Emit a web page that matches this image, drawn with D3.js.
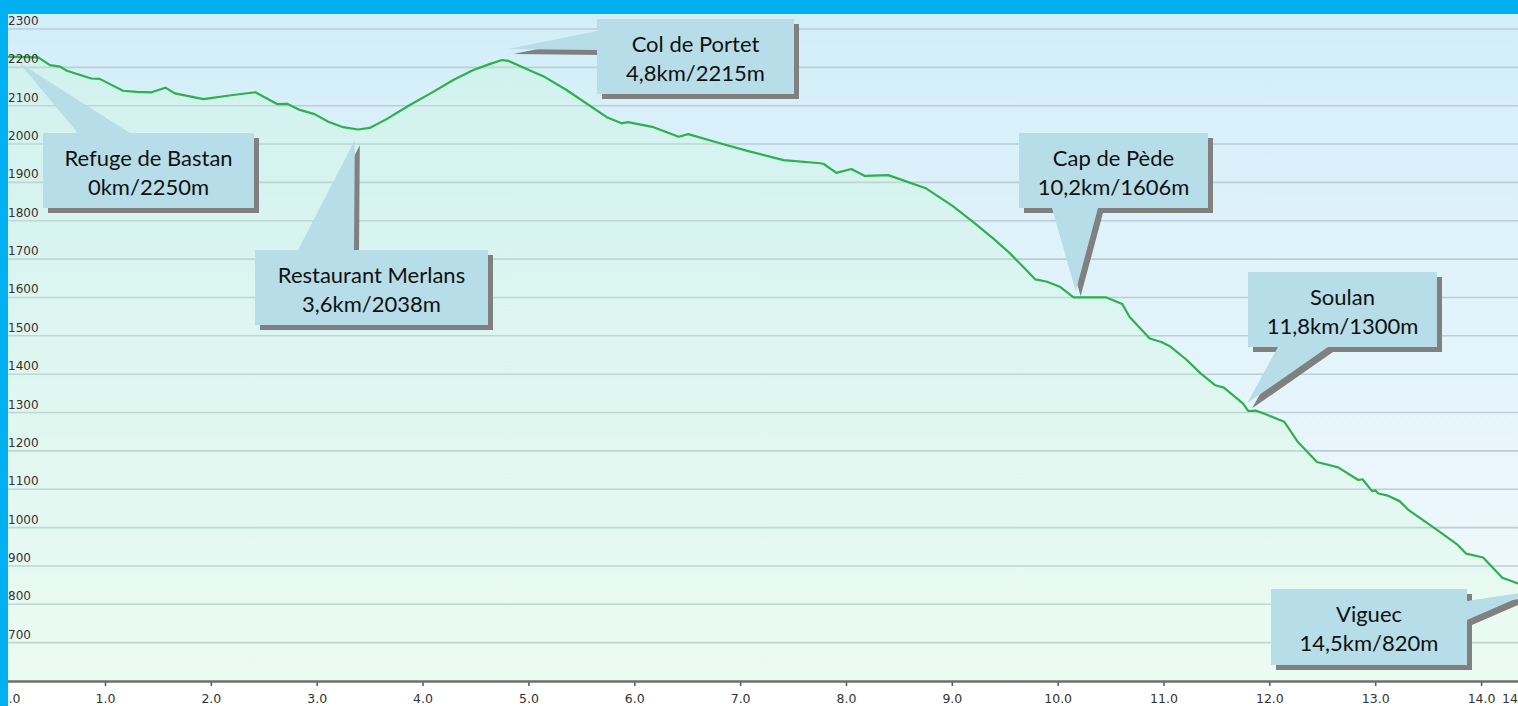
<!DOCTYPE html>
<html>
<head>
<meta charset="utf-8">
<script src="https://cdn.jsdelivr.net/npm/d3@7"></script>
<style>
  body { margin: 0; background: #fff; overflow: hidden; }
  svg { display: block; }
</style>
</head>
<body>
<div id="profil"></div>
<script>
// profile data: distance (km) / elevation (m)
var distKm = [0, 0.37, 0.48, 0.575, 0.64, 0.87, 0.95, 1.17, 1.30, 1.44, 1.57, 1.66, 1.93, 2.21, 2.42, 2.63, 2.72, 2.84, 2.98, 3.11,
  3.25, 3.39, 3.50, 3.66, 3.88, 4.10, 4.29, 4.48, 4.64, 4.75, 4.81, 5.02, 5.14, 5.36, 5.74, 5.88, 5.94, 6.17, 6.42, 6.51,
  6.81, 7.06, 7.41, 7.76, 7.79, 7.91, 8.05, 8.18, 8.40, 8.76, 9.01, 9.20, 9.39, 9.55, 9.68, 9.79, 9.90, 10.02, 10.15, 10.46,
  10.61, 10.68, 10.87, 10.98, 11.06, 11.22, 11.35, 11.49, 11.57, 11.75, 11.80, 11.87, 11.96, 12.14, 12.27, 12.45, 12.65, 12.84, 12.88, 12.97,
  13.00, 13.03, 13.11, 13.23, 13.31, 13.61, 13.77, 13.86, 14.02, 14.20, 14.35, 14.50];
var elevM = [2228, 2226, 2206, 2202, 2191, 2171, 2170, 2139, 2136, 2135, 2147, 2132, 2117, 2128, 2135, 2104, 2105, 2089, 2078, 2058,
  2044, 2038, 2042, 2065, 2102, 2136, 2167, 2193, 2209, 2219, 2217, 2191, 2177, 2141, 2070, 2054, 2057, 2045, 2019, 2026,
  2002, 1983, 1958, 1950, 1948, 1925, 1935, 1917, 1919, 1884, 1838, 1797, 1754, 1715, 1678, 1647, 1641, 1628, 1600, 1600,
  1583, 1549, 1493, 1484, 1473, 1437, 1402, 1371, 1365, 1324, 1304, 1305, 1296, 1276, 1223, 1171, 1157, 1124, 1126, 1095,
  1097, 1089, 1084, 1069, 1047, 989, 957, 932, 922, 869, 854, 828];

// axis ticks
var xTicks = [0, 1, 2, 3, 4, 5, 6, 7, 8, 9, 10, 11, 12, 13, 14];
var xEndTick = 14.5;
var yTicks = [700, 800, 900, 1000, 1100, 1200, 1300, 1400, 1500, 1600, 1700, 1800, 1900, 2000, 2100, 2200, 2300];

// waypoints (callouts)
var stopNames = ["Refuge de Bastan", "Restaurant Merlans", "Col de Portet", "Cap de Pède", "Soulan", "Viguec"];
var stopInfo = ["0km/2250m", "3,6km/2038m", "4,8km/2215m", "10,2km/1606m", "11,8km/1300m", "14,5km/820m"];
var stopKm = [0.19, 3.36, 4.81, 10.17, 11.79, 14.5];
var stopElev = [2212, 2010, 2248, 1616, 1324, 835];

/*================ layout ================*/
var width = 1518,
height = 706;
var plotTop = 14, plotBottom = 681, plotLeft = 8;

// box position of each callout + where the pointer leaves the box (pixels)
var boxLayout = [
  {x: 43,   y: 133, w: 211, h: 75, side: "top",    a: 78,  b: 130},
  {x: 255,  y: 250, w: 233, h: 75, side: "top",    a: 298, b: 354},
  {x: 597,  y: 19,  w: 197, h: 75, side: "left",   a: 31,  b: 50},
  {x: 1019, y: 133, w: 189, h: 75, side: "bottom", a: 1052, b: 1098},
  {x: 1248, y: 272, w: 189, h: 75, side: "bottom", a: 1278, b: 1328},
  {x: 1271, y: 589, w: 196, h: 76, side: "right",  a: 601, b: 620}
];

var x = d3.scaleLinear().domain([0, 14.5]).range([-0.85, 1534]);
var y = d3.scaleLinear().domain([600, 2300]).range([plotBottom, 29]);

var svg = d3.select("#profil").append("svg")
.attr("width", width)
.attr("height", height)
.style("font-family", "'DejaVu Sans', Verdana, sans-serif");

var defs = svg.append("defs");
var bg = defs.append("linearGradient").attr("id", "bgGrad")
.attr("x1", 0).attr("y1", 0).attr("x2", 0).attr("y2", 1);
bg.append("stop").attr("offset", "0%").attr("stop-color", "#d2eef9");
bg.append("stop").attr("offset", "100%").attr("stop-color", "#f4fafd");

defs.append("clipPath").attr("id", "plotClip")
.append("rect").attr("x", 0).attr("y", plotTop).attr("width", width).attr("height", plotBottom - plotTop);

// plot background
svg.append("rect")
.attr("x", 0).attr("y", plotTop)
.attr("width", width).attr("height", plotBottom - plotTop)
.attr("fill", "url(#bgGrad)");

// horizontal grid
svg.append("g").selectAll("line")
.data(yTicks)
.enter().append("line")
.attr("x1", 0).attr("x2", width)
.attr("y1", function(d) { return y(d); })
.attr("y2", function(d) { return y(d); })
.attr("stroke", "#bccdd4")
.attr("stroke-width", 1.6);

var pts = distKm.map(function(d, i) { return [d, elevM[i]]; });

var area = d3.area()
.x(function(d) { return x(d[0]); })
.y0(y(600))
.y1(function(d) { return y(d[1]); });

var line = d3.line()
.x(function(d) { return x(d[0]); })
.y(function(d) { return y(d[1]); });

var g = svg.append("g").attr("clip-path", "url(#plotClip)");

g.append("path")
.datum(pts)
.attr("d", area)
.attr("fill", "rgb(200,255,200)")
.attr("fill-opacity", 0.2);

g.append("path")
.datum(pts)
.attr("d", line)
.attr("fill", "none")
.attr("stroke", "#2db14c")
.attr("stroke-width", 2.2)
.attr("stroke-linejoin", "round");

// y labels sit just above their grid line
svg.append("g").selectAll("text")
.data(yTicks)
.enter().append("text")
.attr("x", 8)
.attr("y", function(d) { return y(d) - 4; })
.attr("font-size", 12)
.attr("fill", "#3a3030")
.text(function(d) { return d; });

// x axis
var xAxis = d3.axisBottom(x)
.tickValues(xTicks)
.tickSize(5)
.tickFormat(d3.format(".1f"));

var ax = svg.append("g")
.attr("transform", "translate(0," + plotBottom + ")")
.call(xAxis);
ax.select(".domain").remove();
ax.selectAll(".tick line").attr("stroke", "#555").attr("stroke-width", 1.5);
ax.selectAll(".tick text")
.attr("y", 13)
.attr("font-size", 12.5)
.attr("font-family", "'DejaVu Sans', Verdana, sans-serif")
.attr("fill", "#333");
// first label is pushed inside the chart
ax.selectAll(".tick").filter(function(d) { return d === 0; }).select("text")
.attr("text-anchor", "start").attr("x", 0.85);

svg.append("line")
.attr("x1", 0).attr("x2", width)
.attr("y1", plotBottom + 0.5).attr("y2", plotBottom + 0.5)
.attr("stroke", "#6e6e6e")
.attr("stroke-width", 2.5);

// end label (14.5) clamped to the right edge, cut by the frame like in the original
svg.append("text")
.attr("x", 1502)
.attr("y", plotBottom + 22)
.attr("font-size", 12.5)
.attr("fill", "#333")
.text(d3.format(".1f")(xEndTick));

/*================ callouts ================*/
function calloutPath(b, tx, ty) {
  var x0 = b.x, y0 = b.y, x1 = b.x + b.w, y1 = b.y + b.h;
  var p = [];
  if (b.side === "top") {
    p = [[x0, y0], [b.a, y0], [tx, ty], [b.b, y0], [x1, y0], [x1, y1], [x0, y1]];
  } else if (b.side === "bottom") {
    p = [[x0, y0], [x1, y0], [x1, y1], [b.b, y1], [tx, ty], [b.a, y1], [x0, y1]];
  } else if (b.side === "left") {
    p = [[x0, y0], [x1, y0], [x1, y1], [x0, y1], [x0, b.b], [tx, ty], [x0, b.a]];
  } else {
    p = [[x0, y0], [x1, y0], [x1, b.a], [tx, ty], [x1, b.b], [x1, y1], [x0, y1]];
  }
  return "M" + p.join("L") + "Z";
}

var callouts = svg.append("g").attr("clip-path", "url(#plotClip)");

stopNames.forEach(function(name, i) {
  var b = boxLayout[i];
  var tx = x(stopKm[i]), ty = y(stopElev[i]);
  var d = calloutPath(b, tx, ty);
  var c = callouts.append("g");
  // shadow
  c.append("path")
  .attr("d", d)
  .attr("transform", "translate(5,5)")
  .attr("fill", "#808080");
  c.append("path")
  .attr("d", d)
  .attr("fill", "#b7dde8");
  var t = c.append("text")
  .attr("text-anchor", "middle")
  .attr("font-family", "Lato, 'Open Sans', sans-serif")
  .attr("font-size", 22)
  .attr("fill", "#111");
  t.append("tspan").attr("x", b.x + b.w / 2).attr("y", b.y + 33).text(name);
  t.append("tspan").attr("x", b.x + b.w / 2).attr("y", b.y + 61.5).text(stopInfo[i]);
});

// blue frame (top strip + left bar)
svg.append("rect").attr("x", 0).attr("y", 0).attr("width", width).attr("height", plotTop).attr("fill", "#00b0f0");
svg.append("rect").attr("x", 0).attr("y", 0).attr("width", plotLeft).attr("height", height).attr("fill", "#00b0f0");
</script>
</body>
</html>
